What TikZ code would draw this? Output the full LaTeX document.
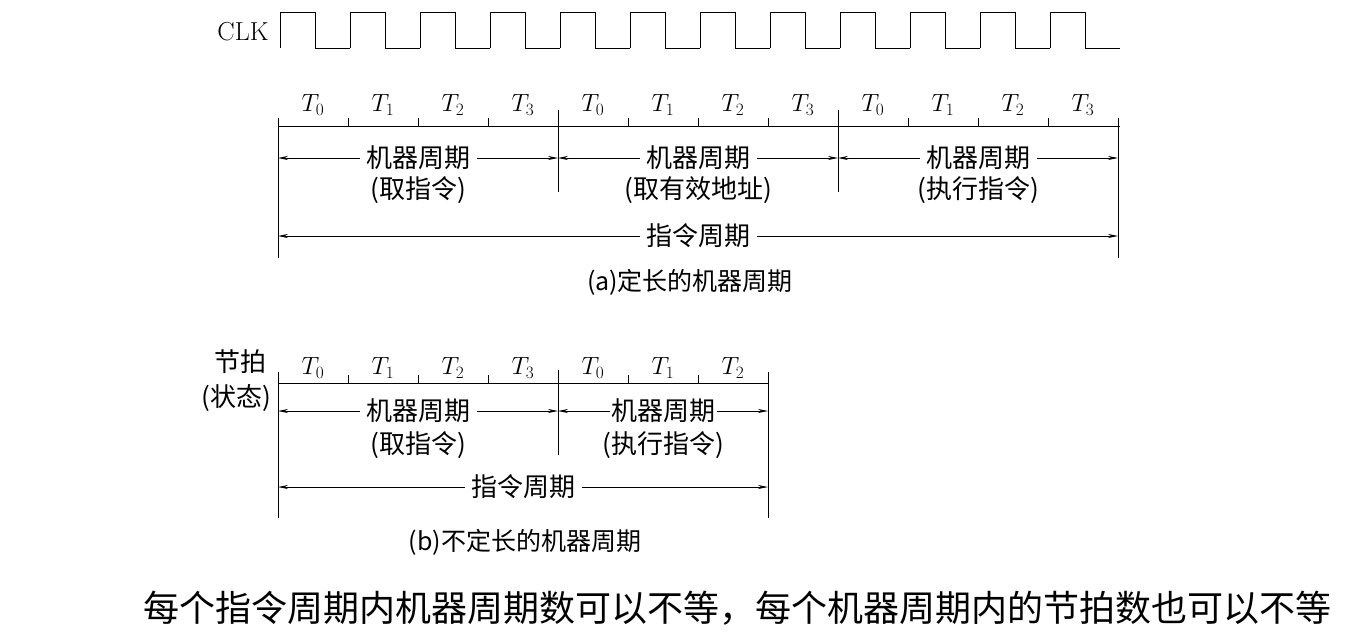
\documentclass[tikz,border=0pt]{standalone}
\usepackage{fontspec}
\newfontfamily\cjk{Noto Sans CJK SC}
\usetikzlibrary{arrows.meta}
\tikzset{
	lab/.style={font=\cjk\fontsize{26}{28}\selectfont, inner xsep=6pt, inner ysep=0pt, fill=white},
	tt/.style={font=\fontsize{24}{26}\selectfont},
	captext/.style={font=\cjk\fontsize{25}{27}\selectfont},
	arr/.style={-{Stealth[length=10pt,width=4pt]}, line width=0.9pt},
}
\begin{document}
\begin{tikzpicture}[x=1pt,y=-1pt,line width=1pt]
	\useasboundingbox (0,0) rectangle (1362,640);
	% (a) clock
	\node (clk) at (243,32) [font=\fontsize{26}{28}\selectfont] {CLK};
	\foreach \i in {0,...,11} {
		\draw (280+70*\i,48) -- (280+70*\i,12) -- (315+70*\i,12) -- (315+70*\i,48) -- (350+70*\i,48);
	}
	\draw (1120,48) -- (1118,48);
	% (a) time axis
	\draw (278,126) -- (1120,126);
	\foreach \x in {348,418,488,628,698,768,908,978,1048} \draw (\x,126) -- (\x,118);
	\foreach \x/\n in {313/0,383/1,453/2,523/3,593/0,663/1,733/2,803/3,873/0,943/1,1013/2,1083/3}
		\node (ta\x) at (\x,105) [tt] {$T_{\n}$};
	\draw (278,118) -- (278,258);
	\draw (1118,118) -- (1118,258);
	\draw (558,110) -- (558,192);
	\draw (838,110) -- (838,192);
	\node (ma1) at (418,158) [lab] {机器周期};
	\node (ma2) at (698,158) [lab] {机器周期};
	\node (ma3) at (978,158) [lab] {机器周期};
	\node (sa1) at (418,190) [lab] {(取指令)};
	\node (sa2) at (698,190) [lab] {(取有效地址)};
	\node (sa3) at (978,190) [lab] {(执行指令)};
	\draw[arr] (ma1.west) -- (278,158);
	\draw[arr] (ma1.east) -- (558,158);
	\draw[arr] (ma2.west) -- (558,158);
	\draw[arr] (ma2.east) -- (838,158);
	\draw[arr] (ma3.west) -- (838,158);
	\draw[arr] (ma3.east) -- (1118,158);
	\node (ia) at (698,236) [lab] {指令周期};
	\draw[arr] (ia.west) -- (278,236);
	\draw[arr] (ia.east) -- (1118,236);
	\node (capa) at (690,282) [captext] {(a)定长的机器周期};
	% (b)
	\node (jp) at (240,362) [lab] {节拍};
	\node (zt) at (236,398) [lab, inner xsep=0pt] {(状态)};
	\draw (278,383) -- (768,383);
	\foreach \x in {348,418,488,628,698} \draw (\x,383) -- (\x,375);
	\foreach \x/\n in {313/0,383/1,453/2,523/3,593/0,663/1,733/2}
		\node (tb\x) at (\x,368) [tt] {$T_{\n}$};
	\draw (278,372) -- (278,518);
	\draw (768,372) -- (768,518);
	\draw (558,370) -- (558,455);
	\node (mb1) at (418,411) [lab] {机器周期};
	\node (mb2) at (663,411) [lab, inner xsep=1pt] {机器周期};
	\node (sb1) at (418,445) [lab] {(取指令)};
	\node (sb2) at (663,445) [lab] {(执行指令)};
	\draw[arr] (mb1.west) -- (278,411);
	\draw[arr] (mb1.east) -- (558,411);
	\draw[arr] (mb2.west) -- (558,411);
	\draw[arr] (mb2.east) -- (768,411);
	\node (ib) at (523,487) [lab] {指令周期};
	\draw[arr] (ib.west) -- (278,487);
	\draw[arr] (ib.east) -- (768,487);
	\node (capb) at (525,542) [captext] {(b)不定长的机器周期};
	\node (note) at (737,608) [font=\cjk\fontsize{36}{38}\selectfont] {每个指令周期内机器周期数可以不等，每个机器周期内的节拍数也可以不等};
\end{tikzpicture}
\end{document}
